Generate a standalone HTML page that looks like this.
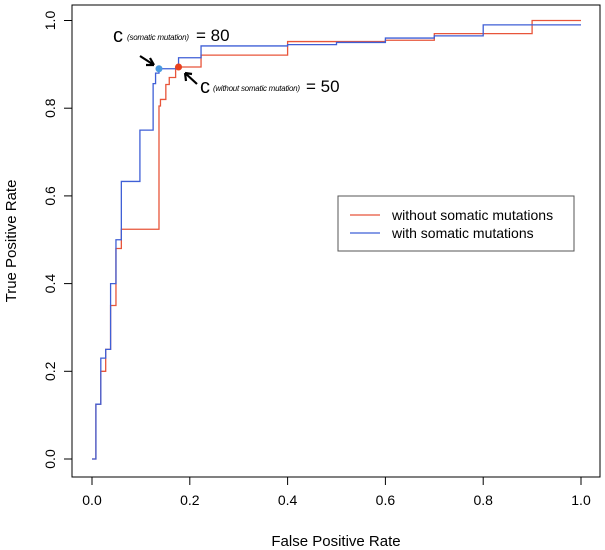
<!DOCTYPE html>
<html><head><meta charset="utf-8"><style>body{margin:0;background:#fff}svg{display:block;font-family:"Liberation Sans",sans-serif}</style></head>
<body>
<svg width="605" height="550" viewBox="0 0 605 550">
<g id="g"></g>
</svg>
<script>
const xTicks=[0,0.2,0.4,0.6,0.8,1.0];
const yTicks=[0,0.2,0.4,0.6,0.8,1.0];
const blueFpr=[0,0.008,0.018,0.028,0.038,0.049,0.06,0.098,0.125,0.13,0.137,0.177,0.223,0.4,0.5,0.6,0.7,0.8,1.0];
const blueTpr=[0,0.125,0.23,0.25,0.40,0.50,0.633,0.75,0.856,0.88,0.89,0.915,0.942,0.945,0.95,0.96,0.965,0.99,0.99];
const redFpr=[0,0.008,0.018,0.028,0.038,0.049,0.06,0.137,0.14,0.151,0.158,0.171,0.223,0.4,0.5,0.6,0.7,0.9,1.0];
const redTpr=[0,0.125,0.2,0.25,0.35,0.48,0.524,0.805,0.82,0.854,0.87,0.894,0.921,0.952,0.952,0.955,0.97,1.0,1.0];
const bluePoint=[0.137,0.89];
const redPoint=[0.177,0.894];
const X=v=>92+v*489, Y=v=>459-v*438.5;
const NS="http://www.w3.org/2000/svg", g=document.getElementById('g');
function mk(t,a,txt){const e=document.createElementNS(NS,t);for(const k in a)e.setAttribute(k,a[k]);if(txt!=null)e.textContent=txt;g.appendChild(e);return e;}
let e=mk('rect',{x:72,y:5,width:528,height:472,fill:'none',stroke:'#000','stroke-width':1});


xTicks.forEach(v=>{
 let t=mk('line',{x1:X(v),x2:X(v),y1:477,y2:485,stroke:'#000'});
 
 
 let l=mk('text',{x:X(v),y:505,'text-anchor':'middle','font-size':14},v.toFixed(1));
 
 
});
yTicks.forEach(v=>{
 let t=mk('line',{x1:64,x2:72,y1:Y(v),y2:Y(v),stroke:'#000'});
 
 
 let l=mk('text',{x:0,y:0,'text-anchor':'middle','font-size':14,transform:`translate(55,${Y(v)}) rotate(-90)`},v.toFixed(1));
 
 
});
e=mk('text',{x:336,y:546,'text-anchor':'middle','font-size':15},'False Positive Rate');


e=mk('text',{x:0,y:0,'text-anchor':'middle','font-size':15,transform:'translate(16,241) rotate(-90)'},'True Positive Rate');


function step(fx,ty){let d=`M${X(fx[0])},${Y(ty[0])}`;for(let i=1;i<fx.length;i++)d+=`H${X(fx[i])}V${Y(ty[i])}`;return d;}
e=mk('path',{d:step(redFpr,redTpr),fill:'none',stroke:'#e8553a','stroke-width':1.3});


e=mk('path',{d:step(blueFpr,blueTpr),fill:'none',stroke:'#3f5fd6','stroke-width':1.3});


e=mk('circle',{cx:X(bluePoint[0]),cy:Y(bluePoint[1]),r:3.5,fill:'#4a9ae0'});


e=mk('circle',{cx:X(redPoint[0]),cy:Y(redPoint[1]),r:3.5,fill:'#e8401f'});


e=mk('text',{x:113,y:42,'font-size':20},'c');


e=mk('text',{x:127,y:40,'font-size':8,'font-style':'italic',textLength:62,lengthAdjust:'spacing'},'(somatic mutation)');


e=mk('text',{x:196,y:41,'font-size':17},'= 80');


e=mk('text',{x:200,y:93,'font-size':20},'c');


e=mk('text',{x:213,y:91,'font-size':8,'font-style':'italic',textLength:87,lengthAdjust:'spacing'},'(without somatic mutation)');


e=mk('text',{x:306,y:92,'font-size':17},'= 50');


e=mk('path',{d:'M140,56 L154,65 M154,65 L146,65 M154,65 L150,58',stroke:'#000','stroke-width':2.2,fill:'none'});


e=mk('path',{d:'M197,84 L185,73 M185,73 L186,81 M185,73 L192,74',stroke:'#000','stroke-width':2.2,fill:'none'});


e=mk('rect',{x:338,y:196,width:236,height:55,fill:'#fff',stroke:'#555'});


e=mk('line',{x1:350,x2:380,y1:215,y2:215,stroke:'#e8553a','stroke-width':1.3});


e=mk('text',{x:392,y:220,'font-size':14},'without somatic mutations');


e=mk('line',{x1:350,x2:380,y1:233,y2:233,stroke:'#3f5fd6','stroke-width':1.3});


e=mk('text',{x:392,y:238,'font-size':14},'with somatic mutations');


</script>
</body></html>
